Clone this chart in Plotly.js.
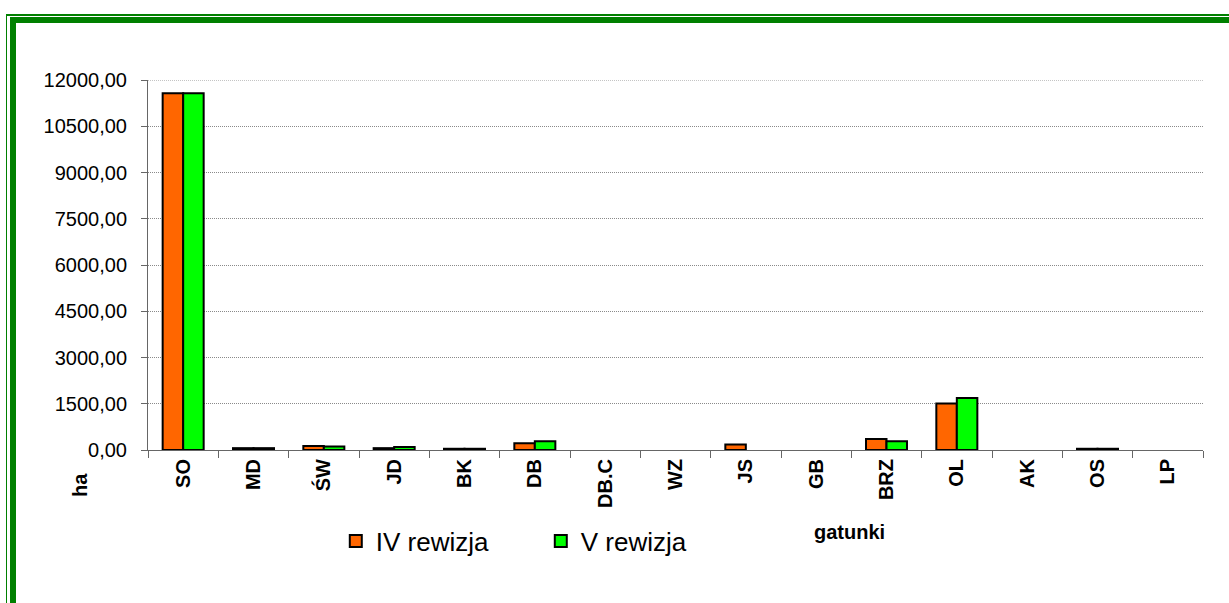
<!DOCTYPE html>
<html>
<head>
<meta charset="utf-8">
<script src="https://cdn.plot.ly/plotly-3.0.1.min.js"></script>
<style>
  html, body { margin: 0; padding: 0; background: #fff; }
  #wrap { position: relative; width: 1229px; height: 603px; overflow: hidden; }
  #chart { position: absolute; left: 0; top: 0; width: 1229px; height: 603px; }
  .fr { position: absolute; background: #008000; pointer-events: none; }
</style>
</head>
<body>
<div id="wrap">
  <div id="chart"></div>
  <div class="fr" style="left:6px; top:14px; width:1223px; height:2px;"></div>
  <div class="fr" style="left:6px; top:14px; width:1px; height:589px;"></div>
  <div class="fr" style="left:10px; top:17px; width:1219px; height:6px;"></div>
  <div class="fr" style="left:10px; top:17px; width:6px; height:586px;"></div>
</div>
<script>
const categories = ['SO','MD','ŚW','JD','BK','DB','DB.C','WZ','JS','GB','BRZ','OL','AK','OS','LP'];
const seriesNames = ['IV rewizja', 'V rewizja'];
const ivRewizja = [11570, 60, 130, 60, 40, 215, 0, 0, 180, 0, 360, 1510, 0, 40, 0];
const vRewizja  = [11570, 60, 110, 100, 40, 280, 0, 0, 0, 0, 280, 1690, 0, 40, 0];
const yTicks = [0, 1500, 3000, 4500, 6000, 7500, 9000, 10500, 12000];

const FONT = 'Arial, "Liberation Sans", sans-serif';
const outline = vals => vals.map(v => (v === 0 ? 0 : 2));
const yMax = yTicks[yTicks.length - 1];

const traces = [
  { type: 'bar', name: seriesNames[0], x: categories, y: ivRewizja,
    marker: { color: '#FF6600', line: { color: '#000000', width: outline(ivRewizja) } } },
  { type: 'bar', name: seriesNames[1], x: categories, y: vRewizja,
    marker: { color: '#00FF00', line: { color: '#000000', width: outline(vRewizja) } } }
];

const layout = {
  width: 1229, height: 603,
  paper_bgcolor: '#ffffff', plot_bgcolor: '#ffffff',
  margin: { l: 148, r: 26, t: 80, b: 153 },
  separators: ',.',
  barmode: 'group', bargap: 0.417, bargroupgap: 0,
  font: { family: FONT, color: '#000' },
  xaxis: {
    type: 'category',
    tickangle: -90,
    tickfont: { family: FONT, size: 20, color: '#000', weight: 'bold' },
    ticks: 'outside', ticklen: 7, tickcolor: '#666', tickwidth: 1,
    tickson: 'boundaries',
    showline: true, linecolor: '#666', linewidth: 1,
    showgrid: false, zeroline: false
  },
  yaxis: {
    range: [0, yMax],
    tickvals: yTicks,
    tickformat: '.2f',
    tickfont: { family: FONT, size: 20, color: '#000' },
    ticks: 'outside', ticklen: 6, tickcolor: '#666', tickwidth: 1,
    ticklabelstandoff: 10,
    showline: true, linecolor: '#666', linewidth: 1,
    showgrid: true, gridcolor: '#8a8a8a', gridwidth: 1, griddash: '1px,1px',
    zeroline: false
  },
  shapes: [
    { type: 'line', xref: 'paper', yref: 'y', x0: 0, x1: 1, y0: yMax, y1: yMax,
      line: { color: '#8a8a8a', width: 1, dash: '1px,1px' }, layer: 'below' }
  ],
  legend: {
    orientation: 'h',
    x: 0.178, xanchor: 'left',
    y: -0.246, yanchor: 'middle',
    font: { family: FONT, size: 26, color: '#000' },
    entrywidth: 160, entrywidthmode: 'pixels',
    bgcolor: 'rgba(0,0,0,0)'
  },
  showlegend: true,
  annotations: [
    { text: '<b>gatunki</b>', xref: 'paper', yref: 'paper', x: 0.6654, y: -0.2216,
      xanchor: 'center', yanchor: 'middle', showarrow: false,
      font: { family: FONT, size: 20, color: '#000' } },
    { text: '<b>ha</b>', xref: 'paper', yref: 'paper', x: -0.0645, y: -0.0946,
      xanchor: 'center', yanchor: 'middle', showarrow: false, textangle: -90,
      font: { family: FONT, size: 20, color: '#000' } }
  ]
};

Plotly.newPlot('chart', traces, layout, { displayModeBar: false, staticPlot: true });
</script>
</body>
</html>
